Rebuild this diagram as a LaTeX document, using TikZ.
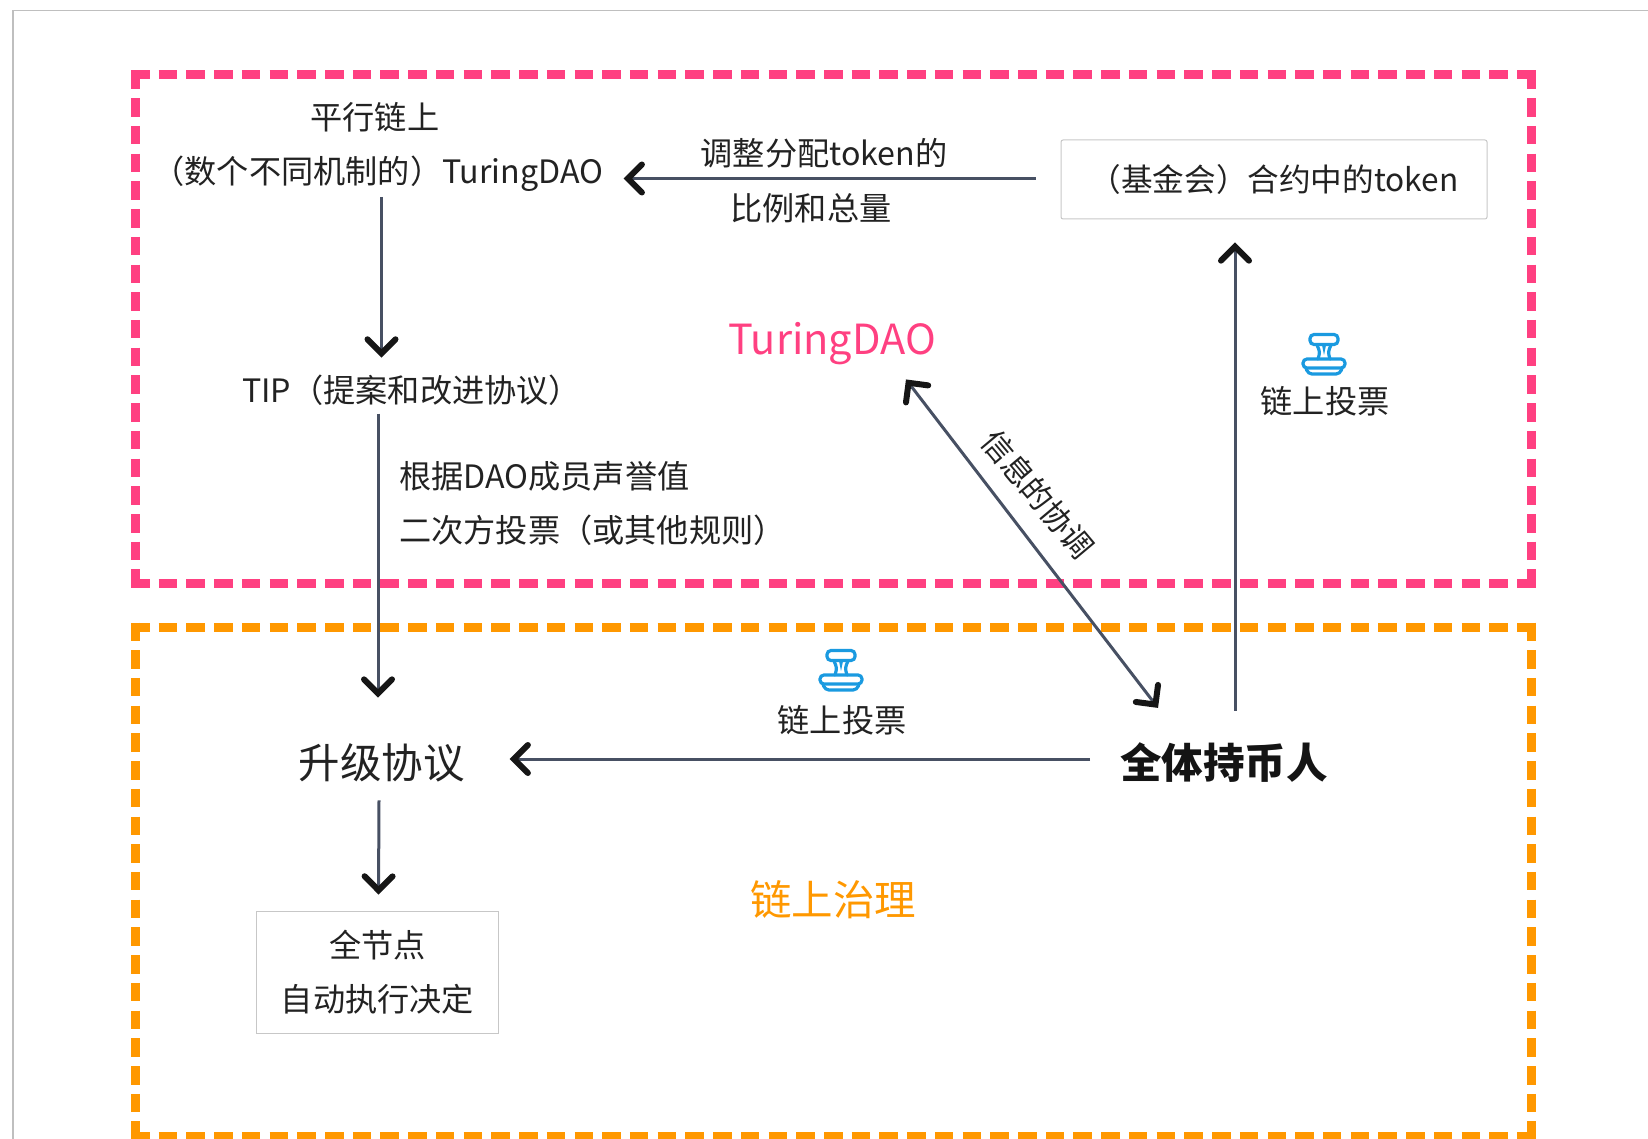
\documentclass[tikz,border=0pt]{standalone}
\usepackage{fontspec}
\setmainfont{Noto Sans CJK SC}
\usetikzlibrary{arrows.meta,positioning}
\definecolor{slateline}{HTML}{475063}
\definecolor{pinkdao}{HTML}{FF4081}
\definecolor{orangechain}{HTML}{FF9800}
\definecolor{stampblue}{HTML}{1A9AE0}
\definecolor{inktext}{HTML}{222222}
\definecolor{tipink}{HTML}{161616}
\pgfdeclarearrow{
    name = VeeTip,
    setup code = {
        \pgfarrowssettipend{4.2pt}
        \pgfarrowssetlineend{-2pt}
        \pgfarrowssetvisualbackend{-15pt}
    },
    drawing code = {
        \pgfsetstrokecolor{tipink}
        \pgfsetlinewidth{6pt}
        \pgfsetroundcap
        \pgfsetmiterjoin
        \pgfpathmoveto{\pgfqpoint{-14pt}{14pt}}
        \pgfpathlineto{\pgfqpoint{0pt}{0pt}}
        \pgfpathlineto{\pgfqpoint{-14pt}{-14pt}}
        \pgfusepathqstroke
    }
}
\tikzset{
    txt/.style={inner sep=0pt, text=inktext, font=\fontsize{32.2}{54}\selectfont, align=center},
    bigtxt/.style={inner sep=0pt, font=\fontsize{41.5}{54}\selectfont},
    thinbox/.style={draw=black!22, line width=1pt},
    flow/.style={draw=slateline, line width=3pt, -{VeeTip}},
    bothflow/.style={draw=slateline, line width=3pt, {VeeTip}-{VeeTip}},
    zone/.style={line width=9pt, dash pattern=on 18.5pt off 9.22pt},
    stampline/.style={draw=stampblue, line width=3.2pt, line cap=round, rounded corners=4pt},
    stampicon/.pic={
        \draw[stampline] (-14,-18.5) rectangle (14,-8.5);
        \draw[stampline] (-21,6) rectangle (21,15);
        \draw[stampline] (-18,15) -- (-16,21) -- (16,21) -- (18,15);
        \draw[stampline] (-7,-8) .. controls (-4,-1) .. (-6,6);
        \draw[stampline] (7,-8) .. controls (4,-1) .. (6,6);
        \fill[stampblue] (-2,-8) -- (2,-8) -- (0,2) -- cycle;
    }
}
\newcommand{\zonerect}[3]{
    \draw[zone, #1] (131,#2) -- (1536,#2);
    \draw[zone, #1] (131,#3) -- (1536,#3);
    \draw[zone, #1] (135.5,#2-4.5) -- (135.5,#3+4.5);
    \draw[zone, #1] (1531.5,#2-4.5) -- (1531.5,#3+4.5);
}
\begin{document}
\begin{tikzpicture}[x=1pt, y=-1pt]
    \useasboundingbox (0,0) rectangle (1648,1139);
    % sheet edge
    \draw[black!25, line width=1.5pt] (1648,10.5) -- (13,10.5) -- (13,1139);

    % the two zones
    \zonerect{pinkdao}{75}{583.5}
    \zonerect{orangechain}{627}{1136}

    % upper part
    \node[txt] (parallel) at (378,147) {平行链上\rule{6.3pt}{0pt}\\（数个不同机制的）TuringDAO};
    \node[txt, anchor=west] (tipnode) at (242,390) {TIP（提案和改进协议）};
    \node[txt, thinbox, rounded corners=2pt, minimum width=426pt, minimum height=79pt, font=\fontsize{31.6}{54}\selectfont] (fund) at (1274,179.5) {（基金会）合约中的token};
    \node[bigtxt, text=pinkdao] (dao) at (832,344) {TuringDAO};
    \node[txt] (ratioa) at (824,153) {调整分配token的};
    \node[txt] (ratiob) at (811,208) {比例和总量};
    \node[txt, anchor=west, align=left] (rule) at (399,503) {根据DAO成员声誉值\\二次方投票（或其他规则）};
    \node[txt, rotate=-50, font=\fontsize{31}{54}\selectfont] (sync) at (1038,494) {信息的协调};
    \pic at (1324,353) {stampicon};
    \node[txt] (votea) at (1325,401) {链上投票};

    % lower part
    \node[bigtxt, text=inktext] (upgrade) at (381.5,763) {升级协议};
    \node[bigtxt, text=black!92, font=\fontsize{41.5}{54}\selectfont\bfseries] (holders) at (1224,763) {全体持币人};
    \node[bigtxt, text=orangechain] (chain) at (833,900) {链上治理};
    \node[txt, thinbox, minimum width=242pt, minimum height=122pt] (fullnode) at (377.5,972) {全节点\\自动执行决定};
    \pic at (841,669) {stampicon};
    \node[txt] (voteb) at (842,720) {链上投票};

    \draw[flow] ([xshift=3.5pt, yshift=-5pt]parallel.south) -- ([xshift=139.5pt, yshift=17pt]tipnode.north west);
    \draw[flow] ([xshift=136pt, yshift=-8pt]tipnode.south west) -- ([xshift=-3.5pt, yshift=46pt]upgrade.north);
    \draw[flow] ([xshift=-2.5pt, yshift=-18pt]upgrade.south) -- ([xshift=1pt, yshift=16pt]fullnode.north);
    \draw[flow] ([xshift=-25pt, yshift=1pt]fund.west) -- ([xshift=20pt, yshift=1pt]parallel.east |- fund.west);
    \draw[flow] ([xshift=-30pt, yshift=4pt]holders.west) -- ([xshift=45pt, yshift=4pt]upgrade.east);
    \draw[flow] ([xshift=11pt, yshift=32pt]holders.north) -- ([xshift=-39pt, yshift=-23pt]fund.south);
    \draw[bothflow] ([xshift=-66pt, yshift=35pt]holders.north) -- ([xshift=74pt, yshift=-14pt]dao.south);
\end{tikzpicture}
\end{document}
